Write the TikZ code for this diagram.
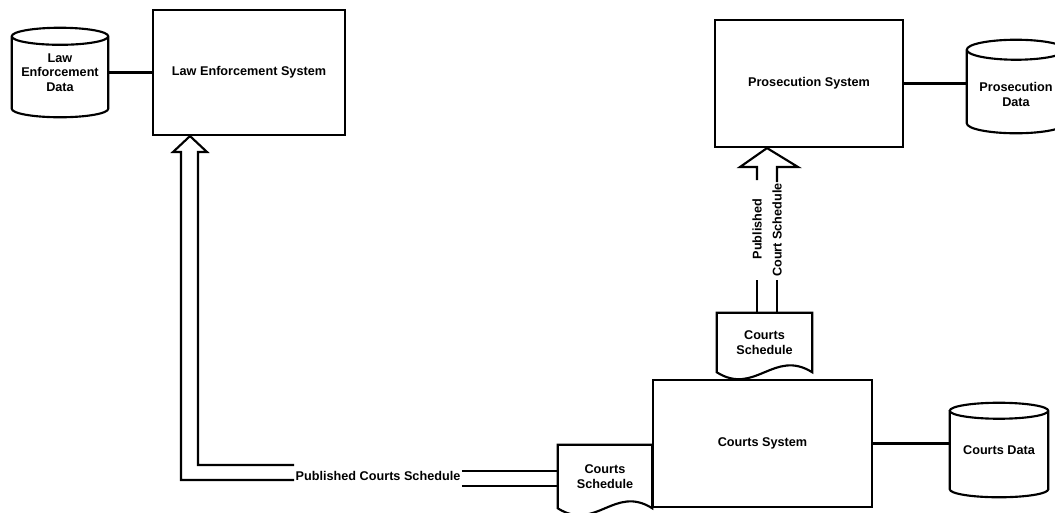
\documentclass[tikz,border=0pt]{standalone}
\usepackage{fontspec}
\setmainfont{Liberation Sans}
\usetikzlibrary{calc}

\newcommand\lbl{\fontsize{9.5}{11}\selectfont\bfseries}

\tikzset{
  ln/.style={line width=1.6pt, line join=miter},
  % node spanning the corners (#1,#2) and (#3,#4), in drawing units
  span/.style n args={4}{
    at={({(#1+#3)/2},{(#2+#4)/2})},
    minimum width={(#3-#1)*0.75pt}, minimum height={(#4-#2)*0.75pt}},
  sysbox/.style={draw, ln, inner sep=0pt, font=\lbl},
  drum/.style={inner sep=0pt, align=center, font=\lbl},
  paper/.style={inner sep=0pt, align=center, font=\lbl},
  flowlbl/.style={inner sep=1pt, font=\lbl},
}

% data store outline: vertical cylinder filling the node, #2 = half height of the end caps
\newcommand\drumoutline[2]{%
  \draw[ln] let \p1=(#1.north west), \p2=(#1.south east) in
    ({\x1},{\y1-#2}) -- ({\x1},{\y2+#2})
    arc[start angle=180, end angle=360, x radius={(\x2-\x1)/2}, y radius=#2]
    -- ({\x2},{\y1-#2})
    arc[start angle=0, end angle=180, x radius={(\x2-\x1)/2}, y radius=#2]
    arc[start angle=180, end angle=360, x radius={(\x2-\x1)/2}, y radius=#2];
}

% printed document outline: rectangle with a wavy lower edge
\newcommand\paperoutline[1]{%
  \draw[ln] let \p1=(#1.north west), \p2=(#1.south east) in
    (\x1,\y1) -- (\x2,\y1) -- (\x2,\y2)
    .. controls ({\x2-0.4*(\x2-\x1)},{\y2+18pt}) and ({\x1+0.4*(\x2-\x1)},{\y2-18pt}) .. (\x1,\y2)
    -- cycle;
}

\begin{document}
\begin{tikzpicture}[x=0.75pt, y=-0.75pt]
\useasboundingbox (0,0) rectangle (1055,512);
\clip (0,0) rectangle (1055,512);

% systems
\node[sysbox, span={153}{10}{345}{135}] (les) {Law Enforcement System};
\node[sysbox, span={715}{20}{903}{147}] (ps) {Prosecution System};
\node[sysbox, span={653}{380}{872}{507}] (cs) {Courts System};

% data stores
\node[drum, span={12}{28}{108}{117}] (led) {Law\\Enforcement\\Data};
\drumoutline{led}{6.4pt}
\node[drum, span={967}{40}{1065}{133},
      label={[drum, yshift=-6pt]center:Prosecution\\Data}] (pd) {};
\drumoutline{pd}{7.5pt}
\node[drum, span={950}{403}{1048}{497}] (cd) {Courts Data};
\drumoutline{cd}{6pt}

% printed schedules
\node[paper, span={558}{445}{652}{508}] (csl) {Courts\\Schedule};
\paperoutline{csl}
\node[paper, span={717}{313}{812}{372}] (csu) {Courts\\Schedule};
\paperoutline{csu}

% system to data store links
\draw[ln] (led) -- (les);
\draw[ln] (ps.east) -- (ps.east -| pd.west);
\draw[ln] (cs.east) -- (cs.east -| cd.west);

% published schedule to law enforcement (hollow arrow)
\node[flowlbl] (pcs) at (378,476) {Published Courts Schedule};
\draw[ln] (pcs.west |- 0,465) -- (198,465) -- (198,152) -- (207,152)
  -- (190,0 |- les.south) -- (173,152) -- (181,152) -- (181,480) -- (pcs.west |- 0,480);
\draw[ln] (pcs.east |- 0,471) -- (csl.west |- 0,471);
\draw[ln] (pcs.east |- 0,486) -- (csl.west |- 0,486);

% published schedule to prosecution (hollow arrow)
\node[flowlbl, rotate=90] (pub) at (757,229) {Published};
\node[flowlbl, rotate=90] (csch) at (777,230) {Court Schedule};
\draw[ln] (757,0 |- csu.north) -- (757,280);
\draw[ln] (777,0 |- csu.north) -- (777,280);
\draw[ln] (757,180) -- (757,167) -- (740,167) -- (767,0 |- ps.south)
  -- (798,167) -- (777,167) -- (777,182);
\end{tikzpicture}
\end{document}
